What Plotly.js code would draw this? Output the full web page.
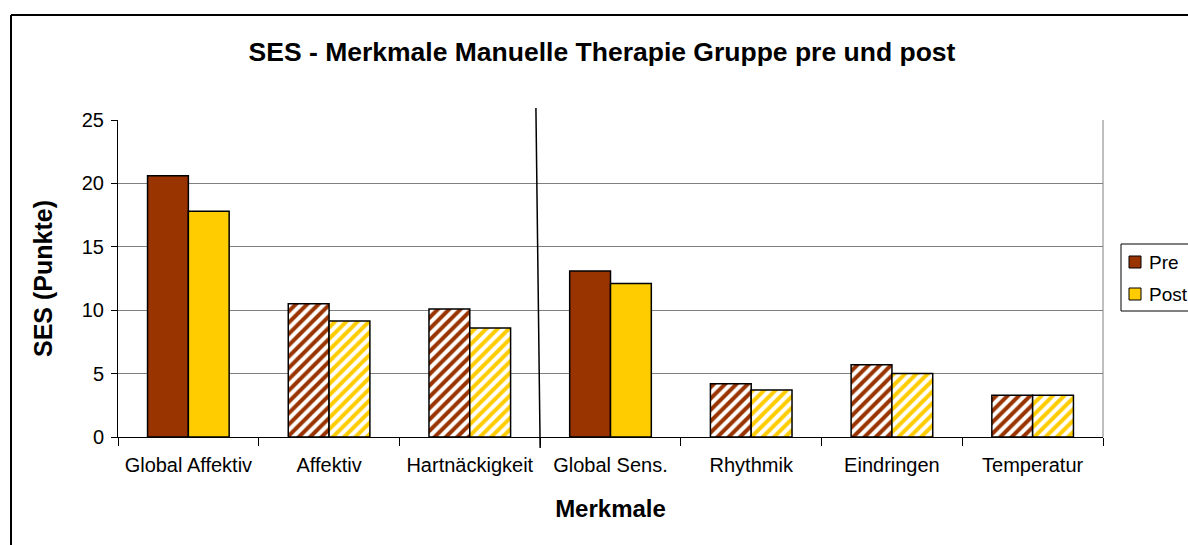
<!DOCTYPE html>
<html>
<head>
<meta charset="utf-8">
<script src="https://cdn.plot.ly/plotly-3.0.1.min.js"></script>
<style>
  html, body { margin: 0; padding: 0; background: #fff; }
  #chart { width: 1188px; height: 545px; }
</style>
</head>
<body>
<div id="chart"></div>
<script>
var categories = ["Global Affektiv", "Affektiv", "Hartnäckigkeit", "Global Sens.", "Rhythmik", "Eindringen", "Temperatur"];
var preValues  = [20.6, 10.5, 10.1, 13.1, 4.2, 5.7, 3.3];
var postValues = [17.8, 9.15, 8.6, 12.1, 3.7, 5.0, 3.3];
var patternShapes = ["", "/", "/", "", "/", "/", "/"];
var yTicks = [0, 5, 10, 15, 20, 25];
var seriesNames = ["Pre", "Post"];

var W = 1188, H = 545;
var L = 118, R = 85, T = 120, B = 108;
var plotW = W - L - R, plotH = H - T - B;
function px2x(px) { return (px - L) / plotW; }
function py2y(py) { return (H - B - py) / plotH; }

var FONT = "Liberation Sans, Arial, sans-serif";
var PRE = "#993300", POST = "#FFCC00";
var colors = [PRE, POST];

function barTrace(name, values, color) {
  return {
    type: "bar", name: name, x: categories, y: values,
    marker: {
      color: color,
      line: {color: "#000", width: 1.5},
      pattern: {shape: patternShapes, fgcolor: color, fgopacity: 1, bgcolor: "#ffffff", size: 8, solidity: 0.5, fillmode: "overlay"}
    },
    hoverinfo: "x+y"
  };
}

var shapes = [
  {type: "line", xref: "paper", yref: "paper", x0: 1, x1: 1, y0: 0, y1: 1, line: {color: "#808080", width: 1}},
  {type: "line", xref: "x", yref: "paper", x0: 2.47, x1: 2.5, y0: py2y(108), y1: py2y(448), line: {color: "#000", width: 1.5}},
  {type: "line", xref: "paper", yref: "paper", x0: px2x(11), x1: px2x(1200), y0: py2y(15), y1: py2y(15), line: {color: "#000", width: 2}},
  {type: "line", xref: "paper", yref: "paper", x0: px2x(11), x1: px2x(11), y0: py2y(15), y1: py2y(560), line: {color: "#000", width: 2}},
  {type: "rect", xref: "paper", yref: "paper", x0: px2x(1121), x1: px2x(1200), y0: py2y(244), y1: py2y(311),
   line: {color: "#000", width: 1}, fillcolor: "#fff", layer: "above"}
];
var annotations = [];
var legendRows = [262, 294];
seriesNames.forEach(function (nm, i) {
  var cy = legendRows[i];
  shapes.push({type: "rect", xref: "paper", yref: "paper",
    x0: px2x(1129), x1: px2x(1141), y0: py2y(cy - 6), y1: py2y(cy + 6),
    line: {color: "#000", width: 1}, fillcolor: colors[i], layer: "above"});
  annotations.push({xref: "paper", yref: "paper", x: px2x(1147), y: py2y(cy), xanchor: "left", yanchor: "middle",
    text: nm, showarrow: false, font: {family: FONT, size: 19, color: "#000"}});
});

var layout = {
  width: W, height: H,
  margin: {l: L, r: R, t: T, b: B, pad: 0, autoexpand: false},
  paper_bgcolor: "#fff", plot_bgcolor: "#fff",
  font: {family: FONT, color: "#000", size: 20},
  title: {
    text: "<b>SES - Merkmale Manuelle Therapie Gruppe pre und post</b>",
    font: {family: FONT, size: 26.5, color: "#000"},
    xref: "container", yref: "container",
    x: 602 / W, xanchor: "center", y: 1 - 52 / H, yanchor: "middle"
  },
  barmode: "group", bargap: 0.42, bargroupgap: 0,
  showlegend: false,
  xaxis: {
    type: "category", automargin: false,
    tickson: "boundaries", ticks: "outside", ticklen: 8, tickcolor: "#000", tickwidth: 1,
    ticklabelstandoff: 10,
    showline: true, linecolor: "#000", linewidth: 1,
    showgrid: false, zeroline: false,
    tickfont: {family: FONT, size: 20, color: "#000"},
    title: {text: "<b>Merkmale</b>", font: {family: FONT, size: 24, color: "#000"}, standoff: 25}
  },
  yaxis: {
    range: [0, 25], tickvals: yTicks, ticktext: yTicks.map(String), automargin: false,
    ticks: "outside", ticklen: 6, tickcolor: "#000",
    ticklabelstandoff: 3,
    showline: true, linecolor: "#000", linewidth: 1,
    showgrid: true, gridcolor: "#808080", gridwidth: 1,
    zeroline: false,
    tickfont: {family: FONT, size: 20, color: "#000"},
    title: {text: "<b>SES (Punkte)</b>", font: {family: FONT, size: 25, color: "#000"}, standoff: 22}
  },
  shapes: shapes,
  annotations: annotations
};

Plotly.newPlot("chart", [barTrace("Pre", preValues, PRE), barTrace("Post", postValues, POST)], layout,
  {displayModeBar: false, staticPlot: true});
</script>
</body>
</html>
